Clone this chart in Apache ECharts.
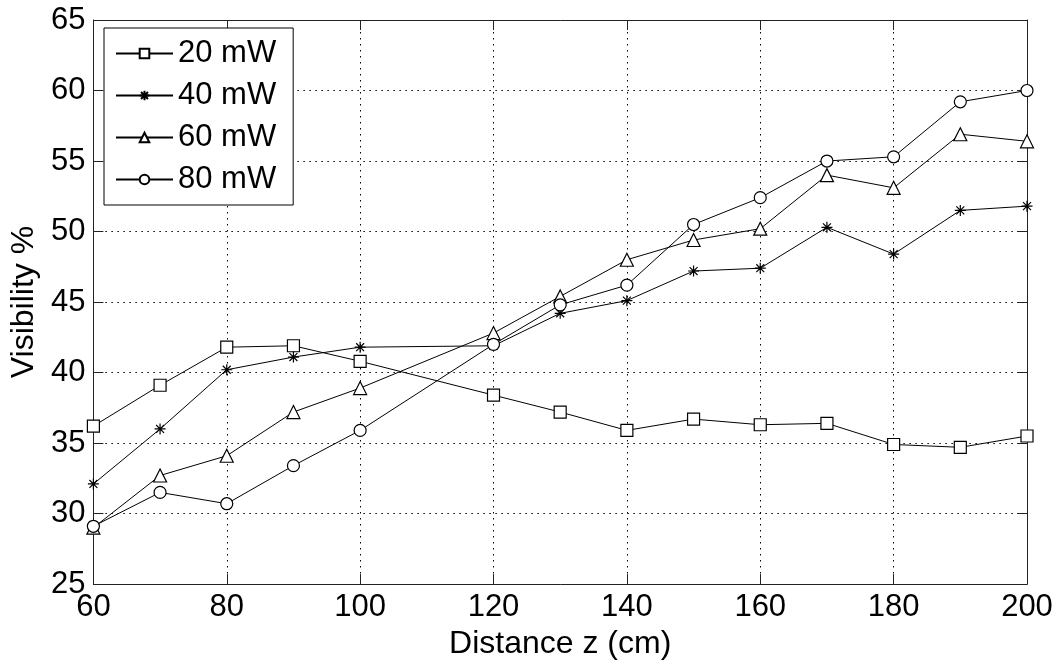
<!DOCTYPE html>
<html>
<head>
<meta charset="utf-8">
<script src="https://cdn.jsdelivr.net/npm/echarts@6/dist/echarts.min.js"></script>
<style>html,body{margin:0;padding:0;background:#fff;}#c{width:1060px;height:665px;}</style>
</head>
<body>
<div id="c"></div>
<script>
var distances = [60, 70, 80, 90, 100, 120, 130, 140, 150, 160, 170, 180, 190, 200];
var seriesNames = ['20 mW', '40 mW', '60 mW', '80 mW'];
var p20 = [36.2, 39.1, 41.8, 41.9, 40.8, 38.4, 37.2, 35.9, 36.7, 36.3, 36.4, 34.9, 34.7, 35.5];
var p40 = [32.1, 36.0, 40.2, 41.1, 41.8, 41.9, 44.2, 45.1, 47.2, 47.4, 50.3, 48.4, 51.5, 51.8];
var p60 = [29.0, 32.7, 34.1, 37.2, 38.9, 42.8, 45.4, 48.0, 49.4, 50.2, 54.0, 53.1, 56.9, 56.4];
var p80 = [29.1, 31.5, 30.7, 33.4, 35.9, 42.0, 44.8, 46.2, 50.5, 52.4, 55.0, 55.3, 59.2, 60.0];
var xTitle = 'Distance z (cm)';
var yTitle = 'Visibility %';

var FONT = 'Liberation Sans';
var STAR = 'path://M0,-5L0,5M-5,0L5,0M-3.6,-3.6L3.6,3.6M-3.6,3.6L3.6,-3.6';

function pairs(vals) { return distances.map(function (d, i) { return [d, vals[i]]; }); }

function mkSeries(name, vals, symbol, size, fill) {
  return {
    name: name, type: 'line', data: pairs(vals),
    symbol: symbol, symbolSize: size, showAllSymbol: true,
    lineStyle: { color: '#000', width: 1 },
    itemStyle: { color: fill, borderColor: '#000', borderWidth: 1.2 },
    emphasis: { disabled: true },
    animation: false, z: 3
  };
}

var chart = echarts.init(document.getElementById('c'), null, { renderer: 'canvas' });
var option = {
  backgroundColor: '#fff',
  animation: false,
  grid: { left: 93, right: 33, top: 20, bottom: 78 },
  legend: {
    left: 104, top: 28, orient: 'vertical',
    backgroundColor: '#fff', borderColor: '#000', borderWidth: 1,
    padding: [10, 17, 10, 11],
    itemWidth: 57, itemHeight: 12, itemGap: 11,
    textStyle: { fontFamily: FONT, fontSize: 31, color: '#000', lineHeight: 31 },
    data: seriesNames
  },
  xAxis: [{
    type: 'value', min: 60, max: 200, interval: 20,
    name: xTitle, nameLocation: 'middle', nameGap: 43,
    nameTextStyle: { fontFamily: FONT, fontSize: 32, color: '#000' },
    axisLine: { show: true, onZero: false, lineStyle: { color: '#222', width: 1 } },
    axisTick: { show: true, inside: true, length: 10, lineStyle: { color: '#222' } },
    axisLabel: { fontFamily: FONT, fontSize: 31, color: '#000', margin: 8 },
    splitLine: { show: true, lineStyle: { color: '#000', width: 1, type: [1.5, 4.5] } }
  }, {
    type: 'value', min: 60, max: 200, interval: 20, position: 'top',
    axisLine: { show: true, onZero: false, lineStyle: { color: '#222', width: 1 } },
    axisTick: { show: true, inside: true, length: 10, lineStyle: { color: '#222' } },
    axisLabel: { show: false }, splitLine: { show: false }
  }],
  yAxis: [{
    type: 'value', min: 25, max: 65, interval: 5,
    name: yTitle, nameLocation: 'middle', nameGap: 52,
    nameTextStyle: { fontFamily: FONT, fontSize: 32, color: '#000' },
    axisLine: { show: true, onZero: false, lineStyle: { color: '#222', width: 1 } },
    axisTick: { show: true, inside: true, length: 10, lineStyle: { color: '#222' } },
    axisLabel: { fontFamily: FONT, fontSize: 31, color: '#000', margin: 8 },
    splitLine: { show: true, lineStyle: { color: '#000', width: 1, type: [1.5, 4.5] } }
  }, {
    type: 'value', min: 25, max: 65, interval: 5, position: 'right',
    axisLine: { show: true, onZero: false, lineStyle: { color: '#222', width: 1 } },
    axisTick: { show: true, inside: true, length: 10, lineStyle: { color: '#222' } },
    axisLabel: { show: false }, splitLine: { show: false }
  }],
  series: [
    mkSeries(seriesNames[0], p20, 'rect', 12, '#fff'),
    mkSeries(seriesNames[1], p40, STAR, 11, '#000'),
    mkSeries(seriesNames[2], p60, 'triangle', 13, '#fff'),
    mkSeries(seriesNames[3], p80, 'circle', 12, '#fff')
  ]
};
chart.setOption(option);
</script>
</body>
</html>
